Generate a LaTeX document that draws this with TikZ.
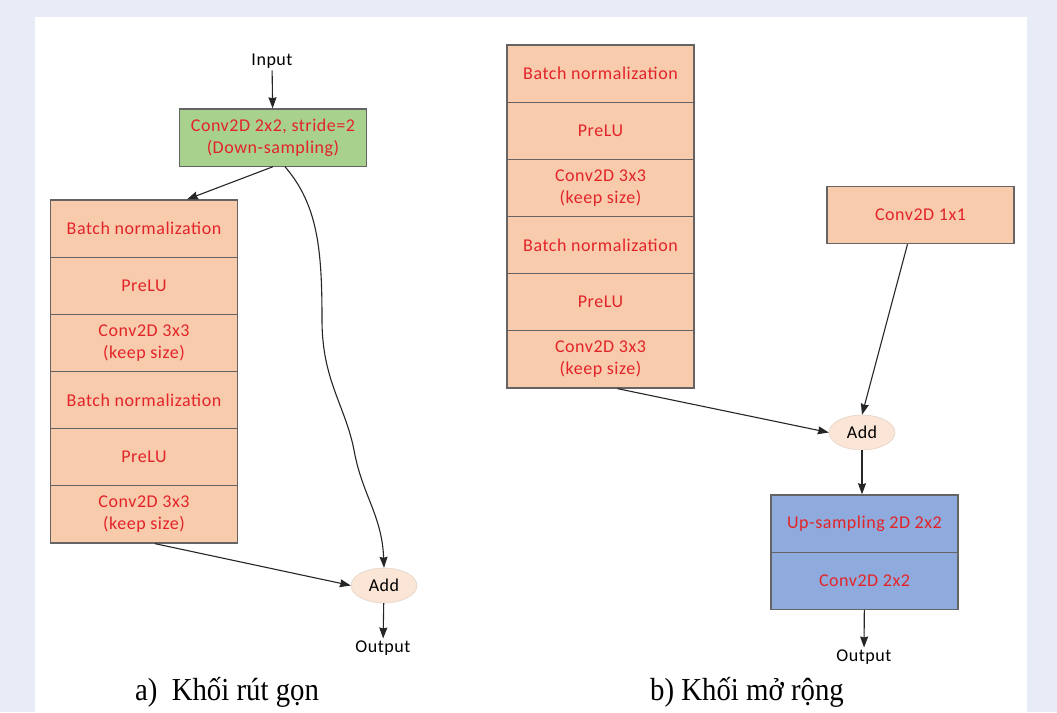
\documentclass[tikz,border=0pt]{standalone}
\usepackage{fontspec}
\usepackage{tikz}
\usetikzlibrary{arrows.meta,shapes.geometric}
\setmainfont{Carlito}[LetterSpace=3]
\newfontfamily\capfont{Liberation Serif}[FakeStretch=0.9]
\definecolor{frameblue}{RGB}{232,236,246}
\definecolor{peach}{RGB}{248,203,173}
\definecolor{lightpeach}{RGB}{251,229,214}
\definecolor{leaf}{RGB}{169,209,142}
\definecolor{sky}{RGB}{143,170,220}
\definecolor{txtred}{RGB}{226,36,40}
\definecolor{edge}{RGB}{100,100,100}

\begin{document}
\begin{tikzpicture}[x=1pt,y=-1pt,
    layer/.style={rectangle,draw=edge,line width=1.2pt,fill=peach,text=txtred,
        minimum width=187pt,minimum height=57.2pt,inner sep=0pt,align=center,
        font=\fontsize{18}{22}\selectfont},
    addnode/.style={ellipse,draw=lightpeach!75!gray,fill=lightpeach,minimum width=66pt,
        minimum height=35pt,inner sep=0pt,font=\fontsize{18}{22}\selectfont},
    io/.style={inner sep=2pt,font=\fontsize{18}{22}\selectfont},
    flow/.style={-{Stealth[length=11pt,width=8pt,inset=1pt]},line width=1.1pt,black!85}]
    % Frame
    \useasboundingbox (0,0) rectangle (1057,712);
    \fill[frameblue] (0,0) rectangle (1057,712);
    \fill[white] (35,17) rectangle (1027,712);

    % a) left block
    \node[io] (inl) at (272,61) {Input};
    \node[layer,fill=leaf] (dsconv) at (273,137.5) {Conv2D 2x2, stride=2\\(Down-sampling)};
    \foreach \i/\t in {1/{Batch normalization},2/PreLU,3/{Conv2D 3x3\\(keep size)},
                       4/{Batch normalization},5/PreLU,6/{Conv2D 3x3\\(keep size)}} {
        \node[layer] (la\i) at (144,{200+57.17*(\i-0.5)}) {\t};
        \node[layer] (ra\i) at (600.5,{45+57.17*(\i-0.5)}) {\t};
    }
    \node[addnode] (addl) at (384,585.5) {Add};
    \node[io] (outl) at (383,648) {Output};

    \draw[flow] (inl) -- (dsconv);
    \draw[flow] (dsconv.south) -- ([xshift=43pt]la1.north);
    \draw[flow] ([xshift=12pt]dsconv.south) .. controls (318,205) and (322,250) .. (322,320)
        .. controls (322,380) and (345,405) .. (354,450)
        .. controls (362,495) and (382,515) .. (addl.north);
    \draw[flow] ([xshift=11pt]la6.south) -- (addl.west);
    \draw[flow] (addl) -- (outl);

    % b) right block
    \node[layer] (c11) at (920.5,215) {Conv2D 1x1};
    \node[addnode] (addr) at (862,432.5) {Add};
    \node[layer,fill=sky] (up1) at (864.5,523.5) {Up-sampling 2D 2x2};
    \node[layer,fill=sky] (up2) at (864.5,580.7) {Conv2D 2x2};
    \node[io] (outr) at (864,657) {Output};

    \draw[flow] ([xshift=-13pt]c11.south) -- (addr.north);
    \draw[flow] ([xshift=17pt]ra6.south) -- (addr.west);
    \draw[flow] (addr.south) -- (addr.south |- up1.north);
    \draw[flow] (up2) -- (outr);

    % Captions
    \node[anchor=base,font=\capfont\fontsize{32}{36}\selectfont] (capa) at (227,700) {a)\ \ Khối rút gọn};
    \node[anchor=base,font=\capfont\fontsize{32}{36}\selectfont] (capb) at (747,700) {b) Khối mở rộng};
\end{tikzpicture}
\end{document}
